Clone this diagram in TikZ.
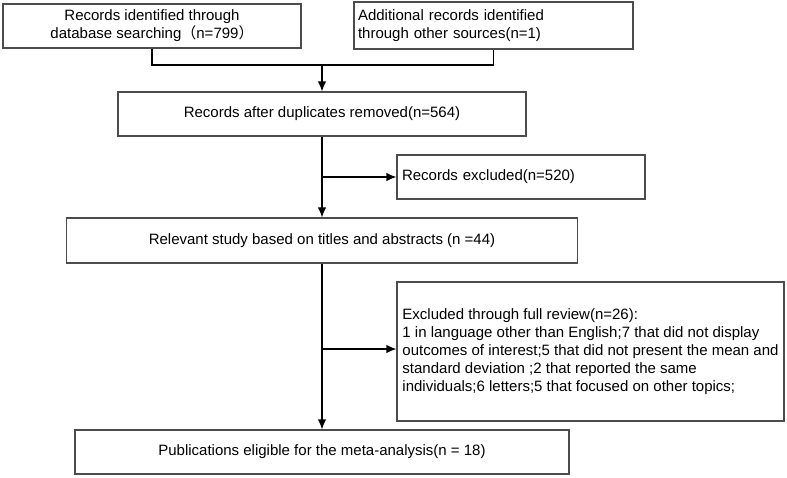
\documentclass[tikz,border=0pt]{standalone}
\usepackage{fontspec}
\setmainfont{Liberation Sans}
\newfontfamily\cjk{Noto Sans CJK SC}
\usepackage{tikz}
\usetikzlibrary{arrows.meta}

\begin{document}
\begin{tikzpicture}[x=1pt,y=-1pt,
    box/.style={draw=black!70,line width=1.2pt,inner sep=0pt,font=\fontsize{15}{18}\selectfont},
    flow/.style={line width=1.2pt,black},
    tip/.style={-{Latex[length=10pt,width=8.5pt]}}]
              \useasboundingbox (0,0) rectangle (787,477);
              % records found
              \node[box,minimum width=298pt,minimum height=44pt,align=center](db)at(152,26){Records identified through\\database searching{\cjk （}n=799{\cjk ）}};
              \node[box,text width=271pt,inner xsep=4pt,minimum height=47pt,align=left](add)at(493.5,25.5){Additional records identified\\through other sources(n=1)};
              \node[box,minimum width=408pt,minimum height=44pt](dup)at(322,114){Records after duplicates removed(n=564)};
              \node[box,text width=238pt,inner xsep=5pt,minimum height=44pt,align=left](exc)at(521,177){Records excluded(n=520)};
              \node[box,minimum width=511pt,minimum height=45pt](rel)at(322,240.5){Relevant study based on titles and abstracts (n =44)};
              % full text review
              \node[box,minimum width=387pt,minimum height=139pt,align=left](full)at(590.5,351.5){Excluded through full review(n=26):\\1 in language other than English;7 that did not display\\outcomes of interest;5 that did not present the mean and\\standard deviation ;2 that reported the same\\individuals;6 letters;5 that focused on other topics;};
              \node[box,minimum width=494pt,minimum height=44pt](pub)at(322,452){Publications eligible for the meta-analysis(n = 18)};
              \coordinate (j) at (322,65);
              \coordinate (e1) at (322,177);
              \coordinate (e2) at (322,349);
              \draw[flow](db.south)|-(j)-|(add.south);
              \draw[flow,tip](j)--(dup.north);
              \draw[flow,tip](dup.south)--(rel.north);
              \draw[flow,tip](e1)--(exc.west);
              \draw[flow,tip](rel.south)--(pub.north);
              \draw[flow,tip](e2)--(e2-|full.west);
            \end{tikzpicture}
\end{document}
